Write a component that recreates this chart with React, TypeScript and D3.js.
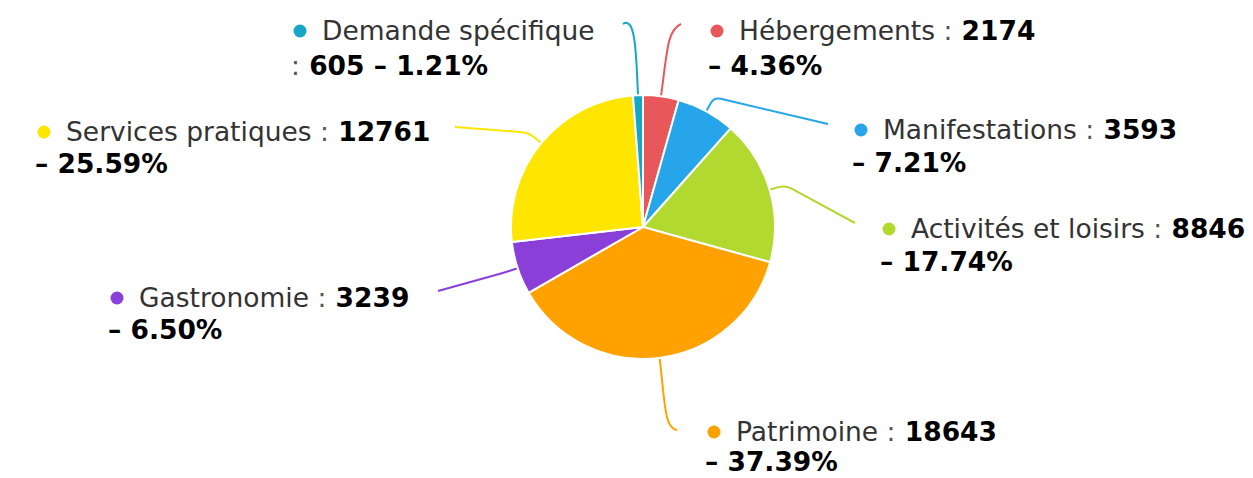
import React from "react";
import * as d3 from "d3";

const categories = [
  "Hébergements",
  "Manifestations",
  "Activités et loisirs",
  "Patrimoine",
  "Gastronomie",
  "Services pratiques",
  "Demande spécifique",
];
const values = [2174, 3593, 8846, 18643, 3239, 12761, 605];
const colors = ["#e8585a", "#26a5ea", "#b2d930", "#ffa200", "#8a3fd9", "#ffe600", "#15a6c8"];

type Layout = {
  left: number;
  base: number;
  gap: number;
  end: [number, number];
  kind: "crook" | "hook";
  c2?: [number, number];
  split?: boolean;
};
const layout: Layout[] = [
  { left: 708, base: 40, gap: 35, end: [681, 24], kind: "hook", c2: [667, 30] },
  { left: 852, base: 139, gap: 33, end: [828, 124], kind: "crook" },
  { left: 880, base: 238, gap: 33, end: [855, 223], kind: "crook" },
  { left: 705, base: 441, gap: 30, end: [677, 430], kind: "hook", c2: [664, 428] },
  { left: 108, base: 307, gap: 32, end: [438, 291], kind: "crook" },
  { left: 35, base: 141, gap: 32, end: [455, 127], kind: "crook" },
  { left: 291, base: 40, gap: 35, end: [623, 24], kind: "hook", c2: [635, 16], split: true },
];

const W = 1253;
const H = 478;
const cx = 643;
const cy = 227;
const R = 132;
const FONT = "'DejaVu Sans', sans-serif";
const FS = 26.5;

export default function App() {
  const total = d3.sum(values);
  const pie = d3.pie<number>().sort(null).value((d) => d);
  const arcs = pie(values);
  const arc = d3.arc<d3.PieArcDatum<number>>().innerRadius(0).outerRadius(R);

  const connector = (a: d3.PieArcDatum<number>, L: Layout) => {
    const mid = (a.startAngle + a.endAngle) / 2;
    const ux = Math.sin(mid);
    const uy = -Math.cos(mid);
    const s: [number, number] = [cx + ux * R, cy + uy * R];
    const e = L.end;
    if (L.kind === "crook") {
      const corner: [number, number] = [s[0] + ux * 16, s[1] + uy * 16];
      const dx = e[0] - corner[0];
      const dy = e[1] - corner[1];
      const dl = Math.hypot(dx, dy);
      const r = 7;
      const a1: [number, number] = [corner[0] - ux * r, corner[1] - uy * r];
      const b1: [number, number] = [corner[0] + (dx / dl) * r, corner[1] + (dy / dl) * r];
      const p = d3.path();
      p.moveTo(s[0], s[1]);
      p.lineTo(a1[0], a1[1]);
      p.quadraticCurveTo(corner[0], corner[1], b1[0], b1[1]);
      p.lineTo(e[0], e[1]);
      return p.toString();
    }
    const c1: [number, number] = [s[0] + ux * 45, s[1] + uy * 45];
    const c2 = L.c2!;
    const p = d3.path();
    p.moveTo(s[0], s[1]);
    p.bezierCurveTo(c1[0], c1[1], c2[0], c2[1], e[0], e[1]);
    return p.toString();
  };

  return (
    <svg
      width={W}
      height={H}
      style={{ position: "absolute", left: 0, top: 0, background: "#fff" }}
      fontFamily={FONT}
    >
      <g>
        {arcs.map((a, i) => (
          <path
            key={"c" + i}
            d={connector(a, layout[i])}
            fill="none"
            stroke={colors[i]}
            strokeWidth={2}
          />
        ))}
      </g>
      <g transform={`translate(${cx},${cy})`}>
        {arcs.map((a, i) => (
          <path key={"s" + i} d={arc(a) || ""} fill={colors[i]} stroke="#fff" strokeWidth={2} strokeLinejoin="round" />
        ))}
      </g>
      <g fontSize={FS}>
        {arcs.map((a, i) => {
          const L = layout[i];
          const pct = ((values[i] / total) * 100).toFixed(2) + "%";
          return (
            <g key={"l" + i}>
              <circle cx={L.left + 9} cy={L.base - 9} r={6.5} fill={colors[i]} />
              {L.split ? (
                <>
                  <text x={L.left + 31} y={L.base} fill="#333">
                    {categories[i]}
                  </text>
                  <text x={L.left} y={L.base + L.gap}>
                    <tspan fill="#555">:</tspan>
                    <tspan fill="#000" fontWeight="bold">{" " + values[i] + " – " + pct}</tspan>
                  </text>
                </>
              ) : (
                <>
                  <text x={L.left + 31} y={L.base}>
                    <tspan fill="#333">{categories[i] + " "}</tspan>
                    <tspan fill="#555">:</tspan>
                    <tspan fill="#000" fontWeight="bold">{" " + values[i]}</tspan>
                  </text>
                  <text x={L.left} y={L.base + L.gap} fill="#000" fontWeight="bold">
                    {"– " + pct}
                  </text>
                </>
              )}
            </g>
          );
        })}
      </g>
    </svg>
  );
}
